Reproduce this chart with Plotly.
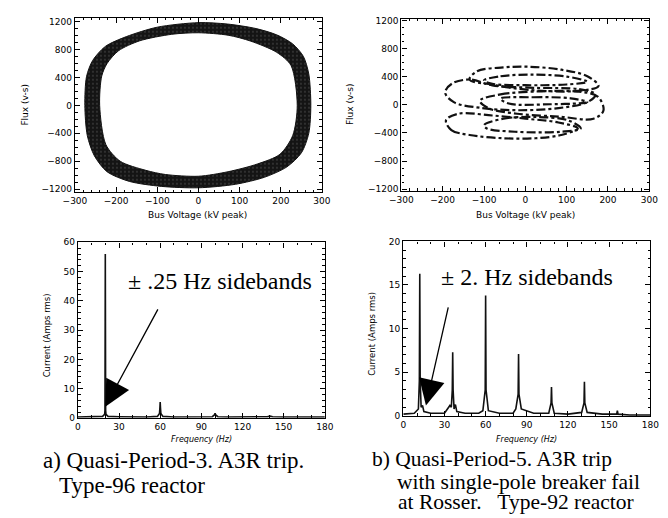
import plotly.graph_objects as go

# ---------------- data ----------------
# (a) phase plane: outer and inner edges of the dense orbit band (kV, V-s)
ring_outer_x = [0, 70, 140, 190, 229, 255, 268, 273, 268, 250, 215, 160, 90, 0, -90, -167, -222, -253, -270, -276, -272, -257, -226, -175, -100, 0]
ring_outer_y = [1185, 1165, 1100, 1010, 880, 700, 450, 0, -400, -680, -880, -1030, -1130, -1180, -1160, -1090, -950, -720, -432, 0, 410, 643, 845, 985, 1120, 1185]
ring_inner_x = [0, 72, 127, 190, 225, 240, 229, 198, 143, 72, 0, -80, -128, -190, -225, -240, -235, -222, -194, -143, -65, 0]
ring_inner_y = [1040, 1005, 920, 760, 570, 0, -432, -700, -840, -950, -1015, -990, -930, -800, -560, 0, 420, 600, 783, 924, 1018, 1040]

# (b) phase plane: quasi-period-5 loops
loops = [
    [(-135, 363), (-117, 480), (-53, 536), (9, 545), (87, 503), (150, 410), (177, 270), (127, 200), (9, 215), (-82, 290), (-135, 363)],
    [(-100, 350), (-60, 410), (20, 432), (100, 405), (150, 330), (100, 292), (0, 282), (-80, 302), (-100, 350)],
    [(-135, 363), (-178, 303), (-194, 177), (-173, 40), (-110, -40), (-20, -75), (80, -45), (150, 40), (170, 150), (130, 225), (20, 245), (-80, 280), (-135, 363)],
    [(-110, 60), (-60, 150), (40, 195), (127, 191), (175, 120), (189, -79), (165, -196), (80, -165), (-20, -125), (-90, -45), (-110, 60)],
    [(-60, 90), (20, 110), (110, 95), (150, 40), (60, 10), (-40, 20), (-60, 90)],
    [(-192, -219), (-179, -358), (-135, -428), (-53, -475), (24, -475), (87, -428), (127, -335), (80, -250), (0, -195), (-80, -150), (-163, -126), (-192, -219)],
    [(-100, -289), (-53, -196), (24, -172), (103, -219), (134, -335), (87, -382), (-25, -382), (-93, -335), (-100, -289)],
]

# (a) spectrum
freq_a = [0, 5, 10, 15, 18, 19.5, 19.75, 19.9, 20, 20.1, 20.25, 20.5, 22, 30, 40, 50, 58, 59.5, 59.8, 60, 60.2, 60.5, 62, 70, 80, 90, 98, 99.5, 100, 100.5, 102, 110, 120, 130, 138, 140, 142, 150, 160, 170, 180]
amp_a = [0.3, 0.4, 0.3, 0.4, 0.5, 1.2, 2.5, 33, 56, 33, 2.5, 1.2, 0.5, 0.4, 0.3, 0.3, 0.5, 1.5, 3.5, 5.4, 3.5, 1.5, 0.5, 0.3, 0.3, 0.3, 0.4, 1.0, 1.6, 1.0, 0.4, 0.3, 0.3, 0.3, 0.4, 0.6, 0.4, 0.3, 0.3, 0.3, 0.3]

# (b) spectrum
freq_b = [0, 8, 11, 11.7, 12, 12.3, 13, 14, 15, 20, 30, 33, 34, 35, 35.7, 36, 36.3, 37, 38, 39, 45, 55, 58, 59.7, 60, 60.3, 62, 70, 80, 82, 83.7, 84, 84.3, 86, 95, 106, 107.7, 108, 108.3, 110, 120, 130, 131.7, 132, 132.3, 134, 145, 155.5, 156, 156.5, 165, 180]
amp_b = [0.2, 0.3, 0.8, 4, 16.3, 4, 1.0, 1.2, 0.5, 0.3, 0.3, 1.0, 1.2, 1.0, 3, 7.3, 3, 0.8, 1.3, 0.5, 0.3, 0.3, 0.6, 3, 13.8, 3, 0.6, 0.3, 0.3, 0.8, 2.5, 7.1, 2.5, 0.8, 0.3, 0.3, 1.5, 3.3, 1.5, 0.3, 0.2, 0.4, 1.5, 3.9, 1.5, 0.4, 0.2, 0.2, 0.6, 0.2, 0.1, 0.1]

volt_ticks = [-300, -200, -100, 0, 100, 200, 300]
flux_ticks = [-1200, -800, -400, 0, 400, 800, 1200]
freq_ticks = [0, 30, 60, 90, 120, 150, 180]
amp_a_ticks = [0, 10, 20, 30, 40, 50, 60]
amp_b_ticks = [0, 5, 10, 15, 20]

# ---------------- figure ----------------
W, H = 668, 518
fig = go.Figure()

# ring band: dark outer region, white inner region on top
fig.add_trace(go.Scatter(x=ring_outer_x, y=ring_outer_y, mode="lines", fill="toself",
                         fillcolor="#1c1c1c", line=dict(color="#111", width=1, shape="spline", smoothing=0.8),
                         fillpattern=dict(shape=".", bgcolor="#141414", fgcolor="#a0a0a0", size=4, solidity=0.1),
                         xaxis="x", yaxis="y", hoverinfo="skip"))
fig.add_trace(go.Scatter(x=ring_inner_x, y=ring_inner_y, mode="lines", fill="toself",
                         fillcolor="white", line=dict(color="#111", width=1, shape="spline", smoothing=0.8),
                         xaxis="x", yaxis="y", hoverinfo="skip"))

lx, ly = [], []
for lp in loops:
    lx += [p[0] for p in lp] + [None]
    ly += [p[1] for p in lp] + [None]
fig.add_trace(go.Scatter(x=lx, y=ly, mode="lines", line=dict(color="#111", width=2.2, dash="dashdot", shape="spline", smoothing=1.0),
                         xaxis="x2", yaxis="y2", connectgaps=False))

fig.add_trace(go.Scatter(x=freq_a, y=amp_a, mode="lines", line=dict(color="#111", width=1.6),
                         xaxis="x3", yaxis="y3"))
fig.add_trace(go.Scatter(x=freq_b, y=amp_b, mode="lines", line=dict(color="#111", width=1.6),
                         xaxis="x4", yaxis="y4"))

tickfont = dict(family="DejaVu Sans", size=9, color="black")
def ax(domain, rng, tickvals, anchor, minor_d):
    return dict(domain=domain, range=rng, tickvals=tickvals, anchor=anchor,
                showline=True, linecolor="black", linewidth=1.4, mirror="allticks",
                ticks="inside", ticklen=5, tickwidth=1, tickcolor="black",
                showgrid=False, zeroline=False, tickfont=tickfont,
                minor=dict(ticks="inside", ticklen=2.5, tickwidth=1, tickcolor="black", dtick=minor_d, showgrid=False),
                fixedrange=True)

def px(v):
    return v / W
def py(v):
    return 1 - v / H

fig.update_layout(
    width=W, height=H, margin=dict(l=0, r=0, t=0, b=0),
    paper_bgcolor="white", plot_bgcolor="white", showlegend=False,
    xaxis=ax([px(65), px(320)], [-300, 300], volt_ticks, "y", 20),
    yaxis=ax([py(191), py(13)], [-1245, 1255], flux_ticks, "x", 100),
    xaxis2=ax([px(402), px(658)], [-300, 300], volt_ticks, "y2", 20),
    yaxis2=ax([py(189.5), py(14)], [-1225, 1230], flux_ticks, "x2", 100),
    xaxis3=ax([px(68), px(323)], [0, 180], freq_ticks, "y3", 10),
    yaxis3=ax([py(421), py(242)], [0, 60], amp_a_ticks, "x3", 2),
    xaxis4=ax([px(404), px(659)], [0, 180], freq_ticks, "y4", 10),
    yaxis4=ax([py(419), py(241)], [0, 20], amp_b_ticks, "x4", 1),
)

small = dict(family="DejaVu Sans", size=9, color="black")
serif = dict(family="Liberation Serif", size=23, color="black")
serif_b = dict(family="Liberation Serif", size=21.5, color="black")
ann = []
def text(x, y, t, font, xanchor="center", yanchor="middle", angle=0):
    ann.append(dict(x=px(x), y=py(y), xref="paper", yref="paper", text=t, showarrow=False,
                    font=font, xanchor=xanchor, yanchor=yanchor, textangle=angle, borderpad=0))

text(192, 214, "Bus Voltage (kV peak)", small)
text(530, 214, "Bus Voltage (kV peak)", small)
text(13, 102, "Flux (v-s)", small, angle=-90)
text(349, 101, "Flux (v-s)", small, angle=-90)
text(196, 443, "<i>Frequency (Hz)</i>", dict(family="DejaVu Sans", size=8, color="black"))
text(531, 443, "<i>Frequency (Hz)</i>", dict(family="DejaVu Sans", size=8, color="black"))
text(37, 337, "Current (Amps rms)", dict(family="DejaVu Sans", size=8.5, color="black"), angle=-90)
text(371, 335, "Current (Amps rms)", dict(family="DejaVu Sans", size=8.5, color="black"), angle=-90)

text(215, 281, "± .25 Hz sidebands", dict(family="Liberation Serif", size=24, color="black"))
text(532, 277, "± 2. Hz sidebands", dict(family="Liberation Serif", size=24, color="black"))

text(166.5, 464, "a) Quasi-Period-3. A3R trip.", serif)
text(124, 490, "Type-96 reactor", serif)
text(495.5, 463, "b) Quasi-Period-5. A3R trip", serif_b)
text(522.5, 486, "with single-pole breaker fail", serif_b)
text(520.5, 507, "at Rosser.   Type-92 reactor", serif_b)

# arrows
ann.append(dict(x=20.0, y=3.8, ax=58.9, ay=37.6, xref="x3", yref="y3", axref="x3", ayref="y3",
                text="", showarrow=True, arrowhead=2, arrowsize=4, arrowwidth=1.3, arrowcolor="black"))
ann.append(dict(x=16.5, y=1.2, ax=33, ay=12.6, xref="x4", yref="y4", axref="x4", ayref="y4",
                text="", showarrow=True, arrowhead=2, arrowsize=4, arrowwidth=1.3, arrowcolor="black"))

fig.update_layout(annotations=ann)
fig.write_html("out.html")
